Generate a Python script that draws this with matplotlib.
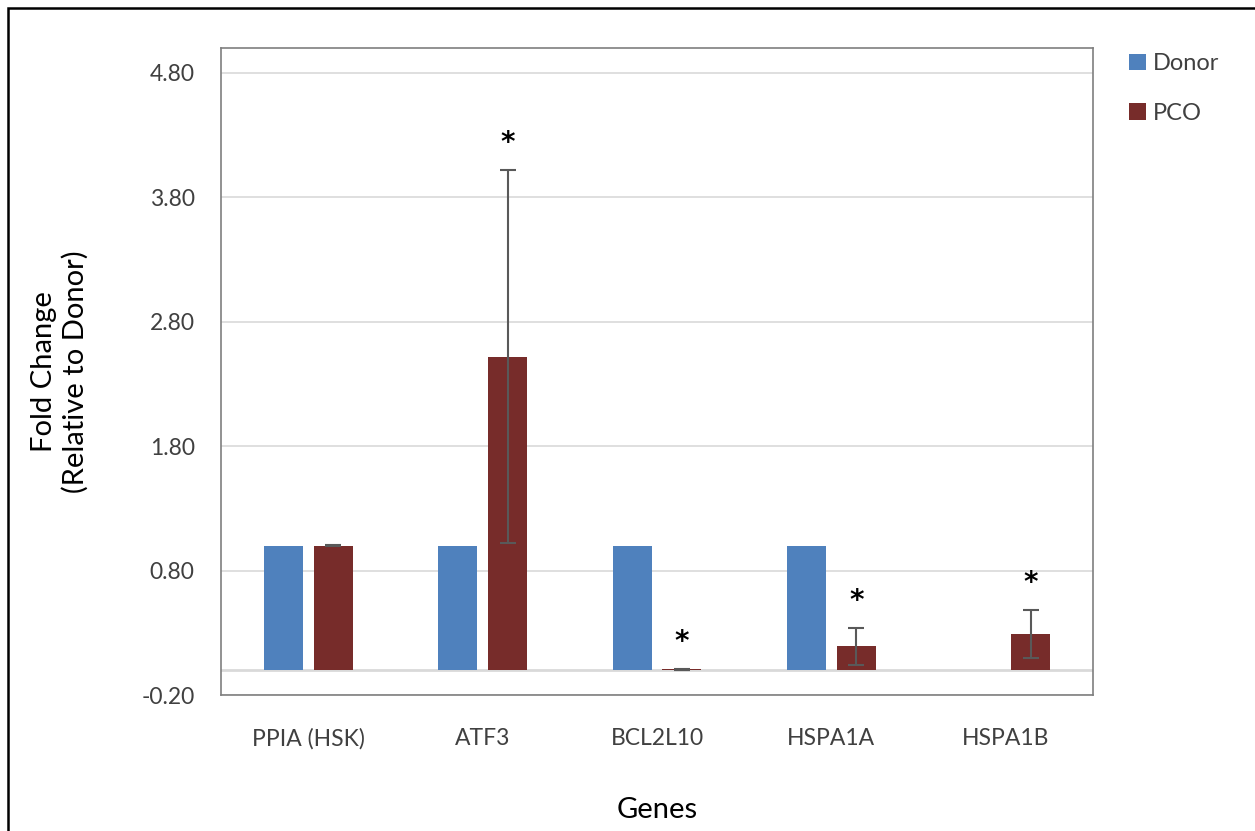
import numpy as np
import matplotlib
matplotlib.use("Agg")
import matplotlib.pyplot as plt
from matplotlib.patches import Rectangle

genes = ["PPIA (HSK)", "ATF3", "BCL2L10", "HSPA1A", "HSPA1B"]
donor = [1.0, 1.0, 1.0, 1.0, 0.0]
pco = [1.0, 2.52, 0.005, 0.19, 0.29]
pco_err = [0.006, 1.50, 0.003, 0.145, 0.19]
significant = [False, True, True, True, True]
yticks = [-0.20, 0.80, 1.80, 2.80, 3.80, 4.80]

plt.rcParams["font.family"] = ["Lato", "DejaVu Sans"]

W, H = 1255, 831
fig = plt.figure(figsize=(W / 100, H / 100), dpi=100)
ax = fig.add_axes([221 / W, 1 - 695 / H, 872 / W, (695 - 48) / H])

x = np.arange(len(genes))
bw = 0.224
off = 0.143
ax.bar(x - off, donor, bw, color="#4F81BD", label="Donor", zorder=3)
ax.bar(x + off, pco, bw, color="#772C2A", label="PCO", zorder=3)
ax.errorbar(x + off, pco, yerr=pco_err, fmt="none", ecolor="#595959",
            elinewidth=1.5, capsize=6, capthick=1.5, zorder=4)

# significance marks
for i, sig in enumerate(significant):
    if sig:
        ax.text(x[i] + off, pco[i] + pco_err[i] + 0.22, "*", ha="center", va="center",
                fontsize=20, fontweight="bold", color="black", family="DejaVu Sans",
                zorder=5)

ax.set_xlim(-0.5, len(genes) - 0.5)
ax.set_ylim(-0.2, 5.0)
ax.set_yticks(yticks)
ax.set_yticklabels([f"{t:.2f}" for t in yticks])
ax.set_xticks(x)
ax.set_xticklabels(genes)
ax.tick_params(axis="both", length=0, labelsize=16.5, labelcolor="#404040")
ax.tick_params(axis="y", pad=19)
ax.tick_params(axis="x", pad=24)
ax.grid(axis="y", color="#D9D9D9", linewidth=1.2, zorder=0)
ax.axhline(0, color="#D9D9D9", linewidth=2, zorder=1)
ax.set_axisbelow(True)
for s in ax.spines.values():
    s.set_color("#7F7F7F")
    s.set_linewidth(1.2)

ax.set_ylabel("Fold Change\n(Relative to Donor)", fontsize=21, color="black", labelpad=38)
ax.set_xlabel("Genes", fontsize=21, color="black", labelpad=34)

fig.legend(loc="upper left", bbox_to_anchor=(1108 / W, 1 - 32 / H), frameon=False,
           fontsize=17, handlelength=0.7, handleheight=0.7, handletextpad=0.3,
           labelspacing=1.2, labelcolor="#404040")

# outer chart border
fig.patches.append(Rectangle((8 / W, -0.1), 2, 1 - 8 / H + 0.1, transform=fig.transFigure,
                             fill=False, edgecolor="black", linewidth=1.8))

fig.savefig("out.png", dpi=100)
